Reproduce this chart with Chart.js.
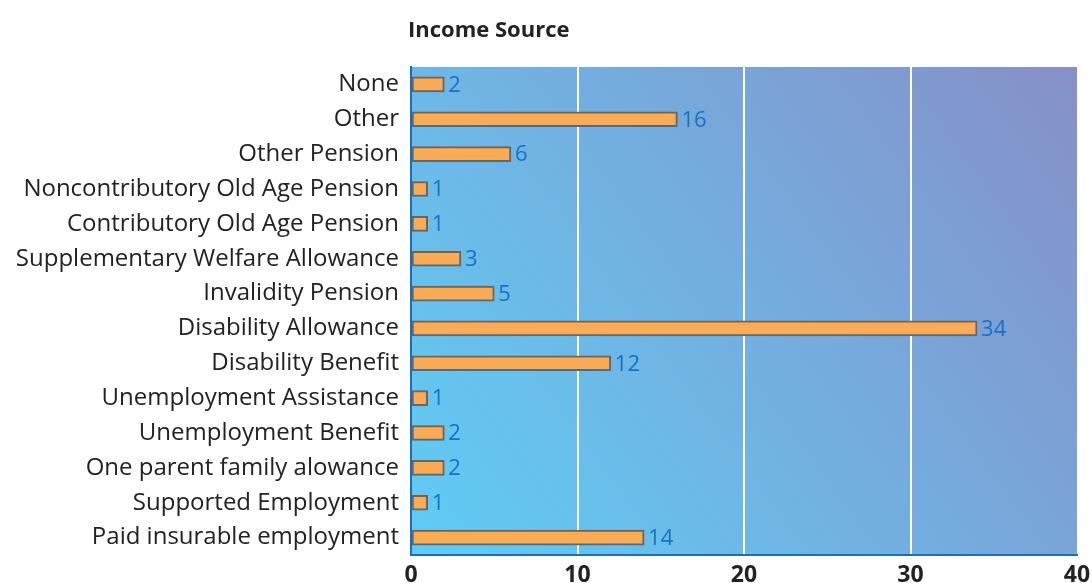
<!DOCTYPE html>
<html>
<head>
<meta charset="utf-8">
<title>Income Source</title>
<script src="https://cdn.jsdelivr.net/npm/chart.js@4"></script>
<style>
  html, body { margin: 0; padding: 0; background: #fff; }
  #wrap { width: 1092px; height: 583px; }
</style>
</head>
<body>
<div id="wrap"><canvas id="incomeChart"></canvas></div>
<script>
// income sources, listed top to bottom
const sources = [
  'None',
  'Other',
  'Other Pension',
  'Noncontributory Old Age Pension',
  'Contributory Old Age Pension',
  'Supplementary Welfare Allowance',
  'Invalidity Pension',
  'Disability Allowance',
  'Disability Benefit',
  'Unemployment Assistance',
  'Unemployment Benefit',
  'One parent family alowance',
  'Supported Employment',
  'Paid insurable employment'
];
const counts = [2, 16, 6, 1, 1, 3, 5, 34, 12, 1, 2, 2, 1, 14];
const xTicks = [0, 10, 20, 30, 40];

const FONT = '"Open Sans", "Noto Sans", sans-serif';

// gradient fill behind the bars
const backdrop = {
  id: 'backdrop',
  beforeDraw(chart) {
    const { ctx, chartArea: a } = chart;
    const g = ctx.createLinearGradient(a.left, a.bottom, a.right, a.top);
    g.addColorStop(0, '#5fcdf4');
    g.addColorStop(0.5, '#74aee0');
    g.addColorStop(1, '#8690c7');
    ctx.save();
    ctx.fillStyle = g;
    ctx.fillRect(a.left, a.top, a.right - a.left, a.bottom - a.top);
    ctx.restore();
  }
};

// value next to each bar + the heading
const labels = {
  id: 'labels',
  afterDatasetsDraw(chart) {
    const { ctx, chartArea: a } = chart;
    const meta = chart.getDatasetMeta(0);
    ctx.save();
    ctx.font = '22px ' + FONT;
    ctx.fillStyle = '#1672c4';
    ctx.textBaseline = 'middle';
    ctx.textAlign = 'left';
    meta.data.forEach((bar, i) => {
      ctx.fillText(String(counts[i]), bar.x + 4, bar.y + 1);
    });
    ctx.font = 'bold 22px ' + FONT;
    ctx.fillStyle = '#222';
    ctx.textBaseline = 'alphabetic';
    ctx.fillText('Income Source', a.left - 3, 37);
    ctx.restore();
  }
};

new Chart(document.getElementById('incomeChart'), {
  type: 'bar',
  data: {
    labels: sources,
    datasets: [{
      data: counts,
      backgroundColor: '#f9ab55',
      borderColor: '#666666',
      borderWidth: 2,
      borderSkipped: false,
      barThickness: 15
    }]
  },
  options: {
    indexAxis: 'y',
    responsive: true,
    maintainAspectRatio: false,
    animation: false,
    layout: { padding: { top: 67, right: 0, left: 0, bottom: 0 } },
    plugins: {
      legend: { display: false },
      tooltip: { enabled: false }
    },
    scales: {
      x: {
        min: 0,
        max: 40,
        afterBuildTicks(scale) {
          scale.ticks = xTicks.map(v => ({ value: v }));
        },
        afterFit(scale) {
          scale.height = 28;
          scale.paddingRight = 15;
        },
        grid: {
          drawTicks: false,
          color: ctx => (ctx.tick && ctx.tick.value > 0 && ctx.tick.value < 40) ? '#ffffff' : 'rgba(0,0,0,0)',
          lineWidth: 2
        },
        border: { display: true, color: '#1a6fba', width: 2 },
        ticks: {
          padding: 7,
          color: '#222',
          font: { family: FONT, size: 23, weight: 'bold' }
        }
      },
      y: {
        afterFit(scale) { scale.width = 411; },
        grid: { display: false, drawTicks: false },
        border: { display: true, color: '#1a6fba', width: 2 },
        ticks: {
          padding: 12,
          color: '#222',
          font: { family: FONT, size: 24 }
        }
      }
    }
  },
  plugins: [backdrop, labels]
});
</script>
</body>
</html>
